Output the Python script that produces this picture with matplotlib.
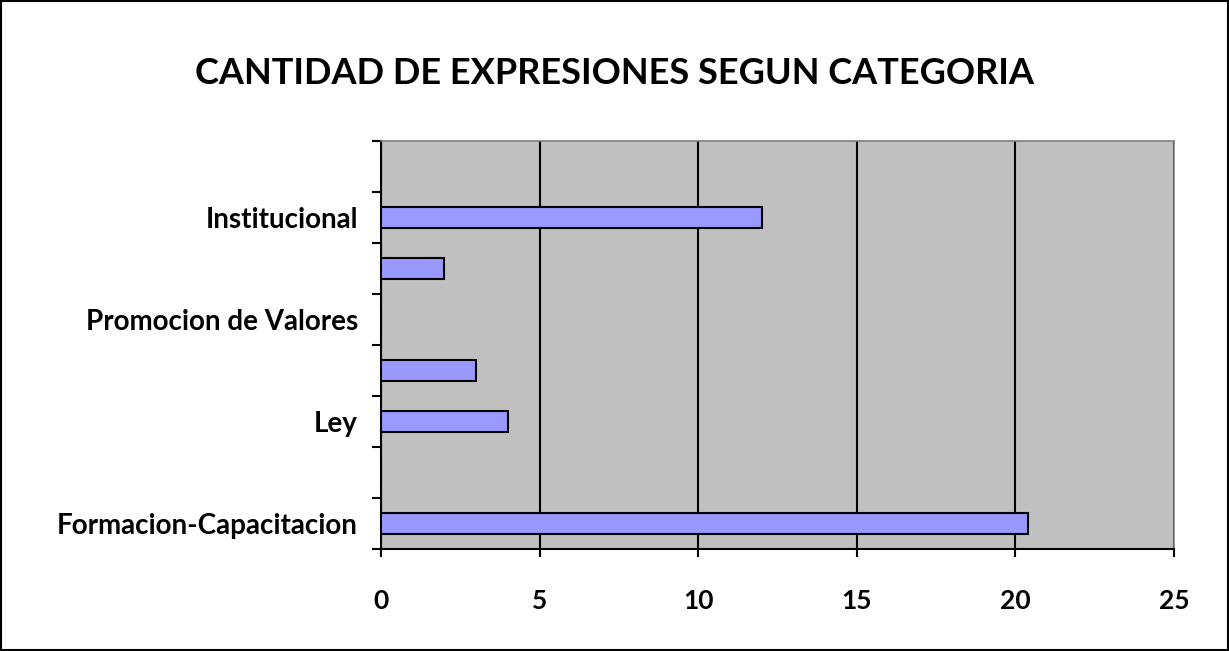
import matplotlib.pyplot as plt
from matplotlib.patches import Rectangle

# categorias de abajo hacia arriba (las etiquetas vacias no se ven en el original)
categorias = ["Formacion-Capacitacion", "", "Ley", "", "Promocion de Valores", "", "Institucional", ""]
cantidades = [20.4, 0, 4, 3, 0, 2, 12, 0]
xticks = [0, 5, 10, 15, 20, 25]

plt.rcParams["font.family"] = ["Lato", "DejaVu Sans"]

fig = plt.figure(figsize=(12.29, 6.51), dpi=100)
ax = fig.add_axes([0.31, 0.1567, 0.6453, 0.6267])

pos = list(range(len(categorias)))
ax.barh(pos, cantidades, height=0.4, color="#9999FF", edgecolor="black", linewidth=1.5, zorder=3)

ax.set_facecolor("#C0C0C0")
ax.set_xlim(0, 25)
ax.set_ylim(-0.5, len(categorias) - 0.5)
ax.set_xticks(xticks)
ax.set_xticklabels([str(t) for t in xticks], fontsize=19, fontweight="bold")
ax.xaxis.grid(True, color="black", linewidth=1.5, zorder=1)
ax.tick_params(axis="x", length=6, width=1.5, pad=23)

# etiquetas en el centro, marcas en los limites de cada categoria
ax.set_yticks(pos)
ax.set_yticklabels(categorias, fontsize=20, fontweight="bold")
ax.tick_params(axis="y", which="major", length=0, pad=16.5)
ax.set_yticks([p - 0.5 for p in pos] + [len(categorias) - 0.5], minor=True)
ax.tick_params(axis="y", which="minor", length=6.5, width=1.5)

for s in ["left", "bottom"]:
    ax.spines[s].set_color("black")
    ax.spines[s].set_linewidth(1.5)
for s in ["top", "right"]:
    ax.spines[s].set_color("#808080")
    ax.spines[s].set_linewidth(1.2)

fig.text(0.5, 0.871, "CANTIDAD DE EXPRESIONES SEGUN CATEGORIA", ha="center", va="baseline",
         fontsize=26, fontweight="bold")

# borde del grafico
fig.patches.append(Rectangle((0.001, 0.0015), 0.998, 0.997, transform=fig.transFigure,
                             fill=False, edgecolor="black", linewidth=1.5))

fig.savefig("out.png", dpi=100)
